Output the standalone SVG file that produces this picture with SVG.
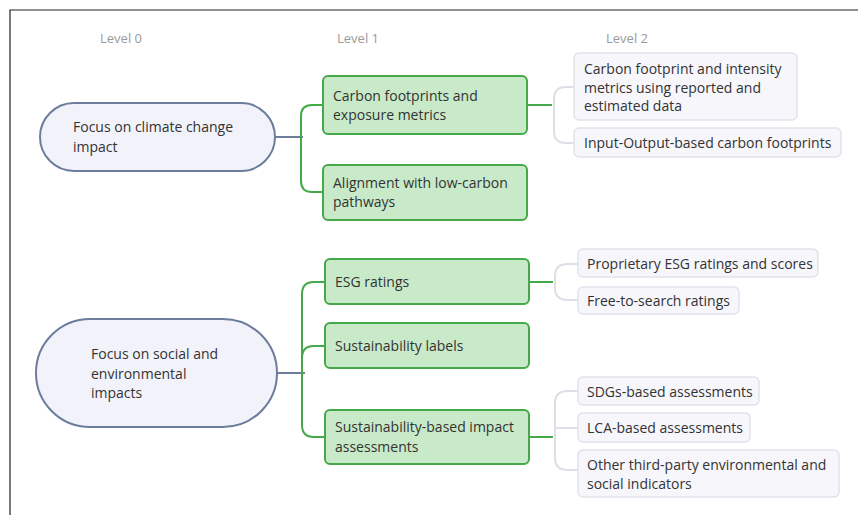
<svg xmlns="http://www.w3.org/2000/svg" width="858" height="515" viewBox="0 0 858 515">
  <style>
    text { font-family: "Open Sans", "Noto Sans", "Liberation Sans", sans-serif; font-size: 14px; fill: #333; }
    .lvl { fill: #9a9a9a; font-size: 13px; }
    .root { fill: #f2f2fa; stroke: #6c7d9c; stroke-width: 2; }
    .l1 { fill: #c8eac8; stroke: #45a849; stroke-width: 2; }
    .l2 { fill: #f6f6fb; stroke: #e2e2ec; stroke-width: 1.5; }
    .c0 { fill: none; stroke: #6c7d9c; stroke-width: 2; }
    .c1 { fill: none; stroke: #45a849; stroke-width: 2; }
    .c2 { fill: none; stroke: #dedee6; stroke-width: 2; }
  </style>
  <rect width="858" height="515" fill="#ffffff"/>
  <!-- frame -->
  <path d="M10 515 V10 H858" fill="none" stroke="#222" stroke-width="1.2"/>

  <!-- column headings -->
  <text class="lvl" x="100" y="43">Level 0</text>
  <text class="lvl" x="337" y="43">Level 1</text>
  <text class="lvl" x="606" y="43">Level 2</text>

  <!-- connectors -->
  <g id="connectors">
    <path class="c0" d="M275 137 H303"/>
    <path class="c1" d="M323 105 H312 Q301 105 301 116 V181 Q301 192 312 192 H323"/>
    <path class="c1" d="M527 105 H552"/>
    <path class="c2" d="M575 87 H566 Q554 87 554 99 V131 Q554 143 566 143 H575"/>

    <path class="c0" d="M277 373 H305"/>
    <path class="c1" d="M325 282 H314 Q302 282 302 294 V425 Q302 437 314 437 H325"/>
    <path class="c1" d="M325 346 H314 Q302 346 302 358"/>
    <path class="c1" d="M529 282 H553"/>
    <path class="c2" d="M578 264 H568 Q555 264 555 276 V288 Q555 300 568 300 H578"/>
    <path class="c1" d="M529 437 H553"/>
    <path class="c2" d="M578 391 H568 Q555 391 555 403 V458 Q555 470 568 470 H578"/>
    <path class="c2" d="M578 428 H555"/>
  </g>

  <!-- level 0 -->
  <g id="root-climate">
    <rect class="root" x="40" y="103" width="235" height="68" rx="34"/>
    <text x="73" y="132">Focus on climate change</text>
    <text x="73" y="152">impact</text>
  </g>
  <g id="root-social">
    <rect class="root" x="36" y="319" width="241" height="108" rx="54"/>
    <text x="91" y="359">Focus on social and</text>
    <text x="91" y="379">environmental</text>
    <text x="91" y="398">impacts</text>
  </g>

  <!-- level 1 -->
  <g id="n-carbon-footprints">
    <rect class="l1" x="323" y="76" width="204" height="58" rx="5"/>
    <text x="333" y="101">Carbon footprints and</text>
    <text x="333" y="120">exposure metrics</text>
  </g>
  <g id="n-alignment">
    <rect class="l1" x="323" y="165" width="204" height="55" rx="5"/>
    <text x="333" y="188">Alignment with low-carbon</text>
    <text x="333" y="207">pathways</text>
  </g>
  <g id="n-esg">
    <rect class="l1" x="325" y="259" width="204" height="45" rx="5"/>
    <text x="335" y="287">ESG ratings</text>
  </g>
  <g id="n-labels">
    <rect class="l1" x="325" y="323" width="204" height="45" rx="5"/>
    <text x="335" y="351">Sustainability labels</text>
  </g>
  <g id="n-impact">
    <rect class="l1" x="325" y="410" width="204" height="54" rx="5"/>
    <text x="335" y="432">Sustainability-based impact</text>
    <text x="335" y="452">assessments</text>
  </g>

  <!-- level 2 -->
  <g id="n-intensity">
    <rect class="l2" x="574" y="53" width="223" height="67" rx="5"/>
    <text x="584" y="74">Carbon footprint and intensity</text>
    <text x="584" y="93">metrics using reported and</text>
    <text x="584" y="111">estimated data</text>
  </g>
  <g id="n-io">
    <rect class="l2" x="574" y="128" width="267" height="29" rx="5"/>
    <text x="584" y="148">Input-Output-based carbon footprints</text>
  </g>
  <g id="n-proprietary">
    <rect class="l2" x="578" y="249" width="240" height="28" rx="5"/>
    <text x="587" y="269">Proprietary ESG ratings and scores</text>
  </g>
  <g id="n-free">
    <rect class="l2" x="578" y="287" width="161" height="27" rx="5"/>
    <text x="587" y="306">Free-to-search ratings</text>
  </g>
  <g id="n-sdgs">
    <rect class="l2" x="578" y="377" width="181" height="28" rx="5"/>
    <text x="587" y="397">SDGs-based assessments</text>
  </g>
  <g id="n-lca">
    <rect class="l2" x="578" y="413" width="172" height="29" rx="5"/>
    <text x="587" y="433">LCA-based assessments</text>
  </g>
  <g id="n-other">
    <rect class="l2" x="578" y="450" width="261" height="47" rx="5"/>
    <text x="587" y="470">Other third-party environmental and</text>
    <text x="587" y="489">social indicators</text>
  </g>
</svg>
